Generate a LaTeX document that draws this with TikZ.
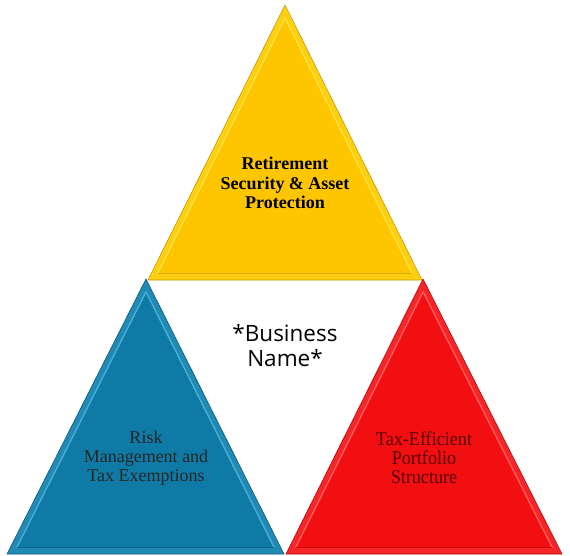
\documentclass[tikz,border=0pt]{standalone}
\usepackage{fontspec}
\setmainfont{Liberation Serif}
\newfontfamily\namefont{Open Sans}
\newfontfamily\narrowserif[FakeStretch=0.93]{Liberation Serif}
\usepackage{xcolor}
\usetikzlibrary{calc}
\definecolor{goldmain}{HTML}{FEC600}
\definecolor{goldlite}{HTML}{FFE23A}
\definecolor{golddark}{HTML}{C99A00}
\definecolor{bluemain}{HTML}{107AA6}
\definecolor{bluelite}{HTML}{47AFD6}
\definecolor{bluedark}{HTML}{0A5877}
\definecolor{redmain}{HTML}{F10F12}
\definecolor{redlite}{HTML}{FF5A5A}
\definecolor{reddark}{HTML}{B00808}
\definecolor{redtext}{HTML}{5A0000}

\begin{document}
\begin{tikzpicture}[x=1pt,y=-1pt,
  label text/.style={align=center,inner sep=0pt},
  name text/.style={align=center,inner sep=0pt,font=\namefont\fontsize{22.5}{25}\selectfont}]
  \useasboundingbox (0,0) rectangle (570,556);

  % triangles: apex x/y, base left x, base right x, base y, colour
  \foreach \ax/\ay/\lx/\rx/\by/\col in
    {285/5/148/422/280/gold, 146/279/7/284/554/blue, 423/279/286/562/554/red} {
    \coordinate (A) at (\ax,\ay);
    \coordinate (L) at (\lx,\by);
    \coordinate (R) at (\rx,\by);
    \coordinate (C) at ({(\ax+\lx+\rx)/3},{(\ay+2*\by)/3});
    \fill[\col lite!30!\col main] (A) -- (L) -- (R) -- cycle;
    \fill[\col main] ($(C)!0.93!(A)$) -- ($(C)!0.93!(L)$) -- ($(C)!0.93!(R)$) -- cycle;
    \draw[\col lite,line width=1.4pt,line join=round]
      ($(C)!0.93!(L)$) -- ($(C)!0.93!(A)$) -- ($(C)!0.93!(R)$);
    \draw[\col dark!60!\col main,line width=0.8pt] ($(C)!0.93!(L)$) -- ($(C)!0.93!(R)$);
    \draw[\col dark,line width=0.6pt,line join=round] (A) -- (L) -- (R) -- cycle;
  }

  % texts
  \node[label text,font=\bfseries\fontsize{18}{19.5}\selectfont] (retire) at (285,183)
    {Retirement\\Security \& Asset\\Protection};
  \node[name text] (bizname) at (285,346) {*Business\\Name*};
  \node[label text,font=\fontsize{18}{19}\selectfont,text=black!85] (risk) at (146,458)
    {Risk\\Management and\\Tax Exemptions};
  \node[label text,font=\narrowserif\fontsize{19.5}{19}\selectfont,text=redtext] (taxeff) at (424,458)
    {Tax-Efficient\\Portfolio\\Structure};
\end{tikzpicture}
\end{document}
